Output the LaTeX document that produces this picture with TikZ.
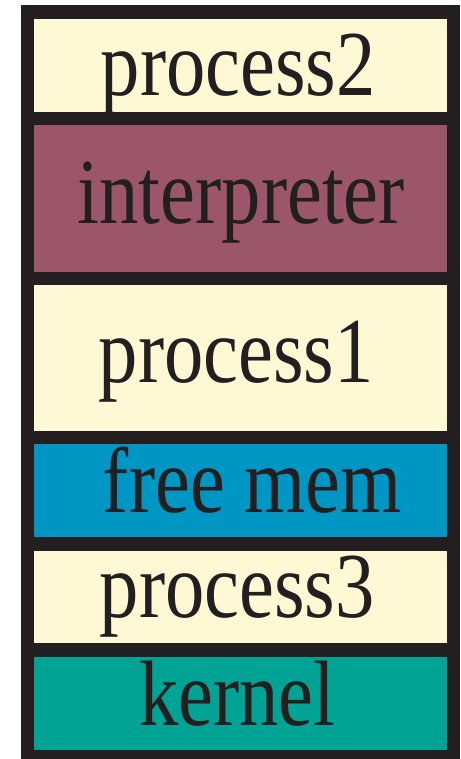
\documentclass[tikz,border=0pt]{standalone}
\usepackage{fontspec}
\newfontfamily\boxfont[FakeStretch=0.845]{Liberation Serif}
\usetikzlibrary{positioning}
\definecolor{ink}{HTML}{231F20}
\definecolor{cream}{HTML}{FFF8D5}
\definecolor{mauve}{HTML}{9C566C}
\definecolor{freeblue}{HTML}{0096C4}
\definecolor{kernteal}{HTML}{00A394}
\tikzset{
  seg/.style={draw=ink, line width=13.3pt, rectangle, minimum width=426pt, inner sep=0pt, outer sep=0pt},
  lbl/.style={anchor=base, text=ink, inner sep=0pt, font=\boxfont\fontsize{93}{100}\selectfont},
}

\begin{document}
\begin{tikzpicture}
  \useasboundingbox (0,0) rectangle (460pt,759pt);
  % memory segments, top to bottom
  \node[seg, fill=cream, minimum height=106.3pt, anchor=north] (p2) at (240.3pt,747pt) {};
  \node[seg, fill=mauve, minimum height=160pt, below=0pt of p2] (interp) {};
  \node[seg, fill=cream, minimum height=159pt, below=0pt of interp] (p1) {};
  \node[seg, fill=freeblue, minimum height=106.7pt, below=0pt of p1] (free) {};
  \node[seg, fill=cream, minimum height=106pt, below=0pt of free] (p3) {};
  \node[seg, fill=kernteal, minimum height=106.7pt, below=0pt of p3] (kern) {};
  % labels
  \node[lbl] (t2) at ([xshift=-2pt, yshift=-30pt]p2.center) {process2};
  \node[lbl] (tint) at ([xshift=1pt, yshift=-25pt]interp.center) {interpreter};
  \node[lbl] (t1) at ([xshift=-4pt, yshift=-25pt]p1.center) {process1};
  \node[lbl] (tfree) at ([xshift=12pt, yshift=-22pt]free.center) {free mem};
  \node[lbl] (t3) at ([xshift=-3pt, yshift=-21pt]p3.center) {process3};
  \node[lbl] (tkern) at ([xshift=-3pt, yshift=-22pt]kern.center) {kernel};
\end{tikzpicture}
\end{document}
